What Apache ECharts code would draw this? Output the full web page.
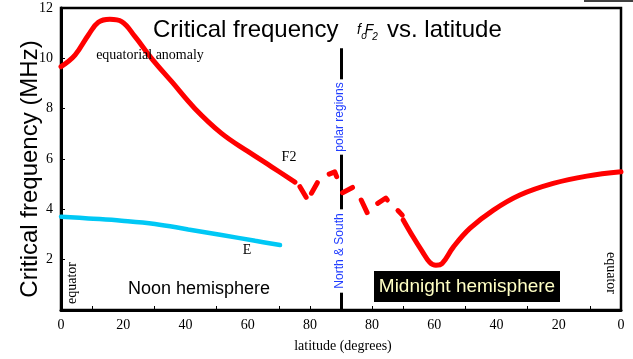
<!DOCTYPE html>
<html><head><meta charset="utf-8">
<script src="https://cdn.jsdelivr.net/npm/echarts@6/dist/echarts.min.js"></script>
<style>html,body{margin:0;padding:0;background:#fff}#c{width:633px;height:359px}</style>
</head><body><div id="c"></div>
<script>
// latitude axis runs 0 (noon equator) .. 90 (pole) .. 180 (midnight equator)
const f2NoonLat = [0, 4.5, 8.8, 12, 15.7, 19.5, 23.8, 29.1, 35.6, 43, 51.6, 60.2, 67.7, 75.2];
const f2NoonFreq = [9.67, 10.13, 10.93, 11.43, 11.55, 11.46, 10.86, 10.0, 9.07, 8.01, 7.02, 6.29, 5.69, 5.08];
const f2PolarDashes = [
  [[76.8, 4.9], [78.8, 4.48]],
  [[80.5, 4.64], [82.4, 5.06]],
  [[86.2, 5.4], [88.0, 5.49], [88.6, 5.3]],
  [[90.5, 4.66], [93.7, 4.87]],
  [[96.5, 4.37], [98.4, 3.87]],
  [[101.8, 4.24], [104.4, 4.45], [104.9, 4.37]],
  [[108.3, 3.95], [109.7, 3.77]]
];
const f2NightLat = [110.0, 113.2, 116.0, 118.5, 120.5, 122.5, 126.1, 131.5, 139, 147.5, 158.2, 169, 180];
const f2NightFreq = [3.58, 2.9, 2.35, 1.9, 1.78, 1.85, 2.5, 3.25, 3.97, 4.57, 5.03, 5.32, 5.49];
const eLat = [0, 8.8, 19.5, 30.2, 40.9, 51.6, 62.4, 70.4];
const eFreq = [3.71, 3.64, 3.55, 3.42, 3.2, 2.98, 2.75, 2.58];
const xTickValues = [10, 30, 50, 70, 80, 100, 110, 130, 150, 170];
const yLabels = [2, 4, 6, 8, 10, 12];
const poleLat = 90;

const zip = (a, b) => a.map((v, i) => [v, b[i]]);
const RED = '#ff0000';
const chart = echarts.init(document.getElementById('c'));
const series = [
  { type: 'line', data: zip(f2NoonLat, f2NoonFreq), smooth: 0.4, symbol: 'none',
    lineStyle: { color: RED, width: 5, cap: 'round' }, z: 5 },
  { type: 'line', data: zip(f2NightLat, f2NightFreq), smooth: 0.4, symbol: 'none',
    lineStyle: { color: RED, width: 5, cap: 'round' }, z: 5 },
  { type: 'line', data: zip(eLat, eFreq), smooth: 0.4, symbol: 'none',
    lineStyle: { color: '#00c8f5', width: 4.5, cap: 'round' }, z: 5,
    markLine: { silent: true, symbol: 'none', label: { show: false },
      lineStyle: { color: '#000', width: 3, type: 'solid' },
      data: [[{ coord: [poleLat, 10.4] }, { coord: [poleLat, 0] }]] } }
];
f2PolarDashes.forEach(d => series.push({ type: 'line', data: d, symbol: 'none', smooth: false,
  lineStyle: { color: RED, width: 5, cap: 'round', join: 'round' }, z: 5 }));

const serif = '"Liberation Serif", "Times New Roman", serif';
const sans = '"Liberation Sans", Arial, sans-serif';
const txt = (x, y, text, font, fill, extra) => Object.assign({ type: 'text', x, y, z: 20,
  style: Object.assign({ text, font, fill, align: 'center', verticalAlign: 'middle' }, extra && extra.style || {}) },
  extra && extra.el || {});

chart.setOption({
  animation: false,
  grid: { left: 61, right: 12, top: 8, bottom: 49, show: true, borderColor: '#000', borderWidth: 2.5 },
  xAxis: { type: 'value', min: 0, max: 180, interval: 20,
    axisLine: { lineStyle: { color: '#000', width: 3 } },
    axisTick: { inside: true, length: 4, customValues: xTickValues, lineStyle: { color: '#000' } },
    axisLabel: { color: '#000', fontFamily: serif, fontSize: 14, margin: 8,
      formatter: v => String(v <= 90 ? v : 180 - v) },
    splitLine: { show: false } },
  yAxis: { type: 'value', min: 0, max: 12, interval: 2,
    axisLine: { lineStyle: { color: '#000', width: 3 } },
    axisTick: { inside: true, length: 4, customValues: yLabels, lineStyle: { color: '#000' } },
    axisLabel: { color: '#000', fontFamily: serif, fontSize: 14, margin: 8,
      formatter: v => yLabels.includes(v) ? String(v) : '' },
    splitLine: { show: false } },
  series,
  graphic: [
    { type: 'line', shape: { x1: 584, y1: 1, x2: 633, y2: 1 }, style: { stroke: '#000', lineWidth: 1.5 } },
    txt(30, 169, 'Critical frequency (MHz)', '24px ' + sans, '#000', { el: { rotation: Math.PI / 2 } }),
    txt(153, 30, 'Critical frequency', '24px ' + sans, '#000', { style: { align: 'left' } }),
    txt(359, 30, 'f', 'italic 14px ' + sans, '#000'),
    txt(364, 36, 'o', 'italic 10px ' + sans, '#000'),
    txt(369, 30, 'F', 'italic 14px ' + sans, '#000'),
    txt(375, 37, '2', 'italic 10px ' + sans, '#000'),
    txt(387, 30, 'vs. latitude', '24px ' + sans, '#000', { style: { align: 'left' } }),
    txt(340, 117, 'polar regions', '12px ' + sans, '#1f3cff', { el: { rotation: Math.PI / 2 }, style: { backgroundColor: '#fff', padding: [0, 3] } }),
    txt(340, 251, 'North & South', '12px ' + sans, '#1f3cff', { el: { rotation: Math.PI / 2 }, style: { backgroundColor: '#fff', padding: [0, 4] } }),
    txt(150, 55, 'equatorial anomaly', '14px ' + serif, '#000'),
    txt(289, 157, 'F2', '14px ' + serif, '#000'),
    txt(247, 250, 'E', '14px ' + serif, '#000'),
    txt(199, 289, 'Noon hemisphere', '18px ' + sans, '#000'),
    { type: 'rect', shape: { x: 374, y: 271, width: 186, height: 31 }, style: { fill: '#000' }, z: 19 },
    txt(467, 287, 'Midnight hemisphere', '19px ' + sans, '#ffffc4'),
    txt(72, 283, 'equator', '14px ' + serif, '#000', { el: { rotation: Math.PI / 2 } }),
    txt(611, 273, 'equator', '14px ' + serif, '#000', { el: { rotation: -Math.PI / 2 } }),
    txt(343, 346, 'latitude (degrees)', '14px ' + serif, '#000')
  ]
});
</script></body></html>
